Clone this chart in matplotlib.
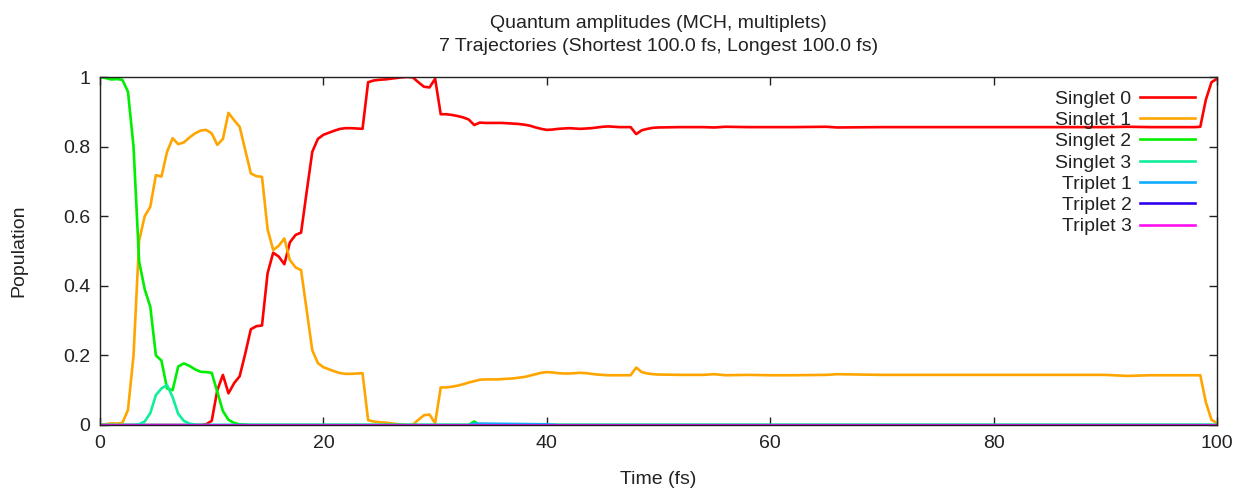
import numpy as np
import matplotlib
matplotlib.use("Agg")
import matplotlib.pyplot as plt

plt.rcParams['font.family'] = ['Liberation Sans', 'DejaVu Sans']

# time grid of the populations (fs)
time_fs = list(np.arange(0.0, 50.5, 0.5)) + [52, 54, 55, 56, 58, 60, 62, 65, 66, 70, 80,
                                             90, 92, 94, 98, 98.5, 99, 99.5, 100]

singlet0 = [0, 0, 0, 0, 0, 0, 0, 0, 0, 0,
            0, 0, 0, 0, 0, 0, 0, 0, 0, 0.002,
            0.012, 0.10, 0.144, 0.091, 0.12, 0.14, 0.205, 0.275, 0.284, 0.286,
            0.436, 0.495, 0.484, 0.462, 0.525, 0.546, 0.553, 0.67, 0.785, 0.822,
            0.834, 0.84, 0.846, 0.851, 0.853, 0.853, 0.852, 0.851, 0.985, 0.99,
            0.992, 0.993, 0.995, 0.997, 0.999, 1.0, 0.999, 0.985, 0.972, 0.97,
            0.995, 0.893, 0.893, 0.891, 0.888, 0.884, 0.878, 0.862, 0.869, 0.868,
            0.868, 0.868, 0.868, 0.867, 0.866, 0.865, 0.863, 0.86, 0.855, 0.851,
            0.848, 0.849, 0.851, 0.852, 0.853, 0.852, 0.851, 0.852, 0.853, 0.855,
            0.857, 0.858, 0.857, 0.856, 0.856, 0.856, 0.836, 0.847, 0.851, 0.854,
            0.855,
            0.856, 0.856, 0.855, 0.857, 0.856, 0.856, 0.856, 0.857, 0.855, 0.856, 0.856,
            0.856, 0.857, 0.856, 0.856, 0.857, 0.935, 0.985, 0.995]

singlet1 = [0, 0.002, 0.005, 0.004, 0.006, 0.043, 0.2, 0.53, 0.6, 0.627,
            0.718, 0.714, 0.785, 0.824, 0.807, 0.812, 0.826, 0.838, 0.846, 0.848,
            0.838, 0.805, 0.822, 0.897, 0.876, 0.857, 0.79, 0.723, 0.715, 0.713,
            0.563, 0.503, 0.515, 0.536, 0.474, 0.453, 0.445, 0.33, 0.215, 0.178,
            0.166, 0.16, 0.154, 0.149, 0.147, 0.147, 0.148, 0.149, 0.014, 0.01,
            0.008, 0.007, 0.005, 0.003, 0.001, 0.0, 0.001, 0.015, 0.028, 0.03,
            0.005, 0.108, 0.108, 0.11, 0.113, 0.117, 0.122, 0.126, 0.13, 0.131,
            0.131, 0.131, 0.132, 0.133, 0.134, 0.136, 0.138, 0.142, 0.146, 0.15,
            0.152, 0.151, 0.149, 0.148, 0.148, 0.149, 0.15, 0.149, 0.147, 0.145,
            0.144, 0.143, 0.143, 0.143, 0.143, 0.143, 0.165, 0.152, 0.148, 0.146,
            0.145,
            0.144, 0.144, 0.146, 0.143, 0.144, 0.143, 0.143, 0.144, 0.146, 0.144, 0.144,
            0.144, 0.141, 0.143, 0.143, 0.143, 0.065, 0.015, 0.005]

s2_time = list(np.arange(0.0, 14.5, 0.5)) + [33, 33.5, 34, 100]
singlet2 = [1.0, 0.997, 0.993, 0.994, 0.992, 0.958, 0.8, 0.47, 0.39, 0.34,
            0.2, 0.185, 0.105, 0.10, 0.168, 0.177, 0.17, 0.16, 0.153, 0.152,
            0.15, 0.095, 0.04, 0.015, 0.006, 0.002, 0.001, 0.0, 0.0,
            0.0, 0.01, 0.0, 0.0]

s3_time = list(np.arange(0.0, 10.5, 0.5)) + [100]
singlet3 = [0, 0, 0, 0, 0, 0, 0, 0.002, 0.01, 0.034,
            0.086, 0.105, 0.115, 0.08, 0.032, 0.012, 0.004, 0.001, 0, 0,
            0, 0]

t1_time = [0, 33, 33.5, 34, 40, 41, 100]
triplet1 = [0, 0, 0.004, 0.004, 0.002, 0, 0]
t23_time = [0, 100]
triplet2 = [0, 0]
triplet3 = [0, 0]

series = [
    ("Singlet 0", time_fs, singlet0, "#ff0000"),
    ("Singlet 1", time_fs, singlet1, "#ffa500"),
    ("Singlet 2", s2_time, singlet2, "#00ee00"),
    ("Singlet 3", s3_time, singlet3, "#11ee99"),
    ("Triplet 1", t1_time, triplet1, "#11aaff"),
    ("Triplet 2", t23_time, triplet2, "#3300ee"),
    ("Triplet 3", t23_time, triplet3, "#ff11ee"),
]

FS = 14

fig = plt.figure(figsize=(12.41, 4.88), dpi=100)
ax = fig.add_axes([0.0806, 0.1291, 0.9001, 0.7131])

for name, t, y, c in series:
    ax.plot(t, y, color=c, lw=1.9, label=name, solid_joinstyle='round')

ax.set_xlim(0, 100)
ax.set_ylim(0, 1)
ax.set_xticks([0, 20, 40, 60, 80, 100])
ax.set_yticks([0, 0.2, 0.4, 0.6, 0.8, 1.0])
ax.set_yticklabels(["0", "0.2", "0.4", "0.6", "0.8", "1"])
ax.tick_params(direction='in', length=6, width=1, top=True, right=True,
               labelsize=FS, colors='#222222', pad=7)
for sp in ax.spines.values():
    sp.set_color('#222222')
    sp.set_linewidth(1)

ax.set_xlabel("Time (fs)", fontsize=FS, labelpad=14, color='#222222')
ax.set_ylabel("Population", fontsize=FS, labelpad=26, color='#222222')
ax.set_title("Quantum amplitudes (MCH, multiplets)\n7 Trajectories (Shortest 100.0 fs, Longest 100.0 fs)",
             fontsize=FS, pad=19, linespacing=1.45, color='#222222')

leg = ax.legend(loc='upper right', bbox_to_anchor=(0.987, 0.985), frameon=False,
                markerfirst=False, fontsize=FS, handlelength=2.8,
                labelspacing=0.19, handletextpad=0.45, borderaxespad=0)
for txt in leg.get_texts():
    txt.set_color('#222222')

fig.savefig("out.png", dpi=100)
